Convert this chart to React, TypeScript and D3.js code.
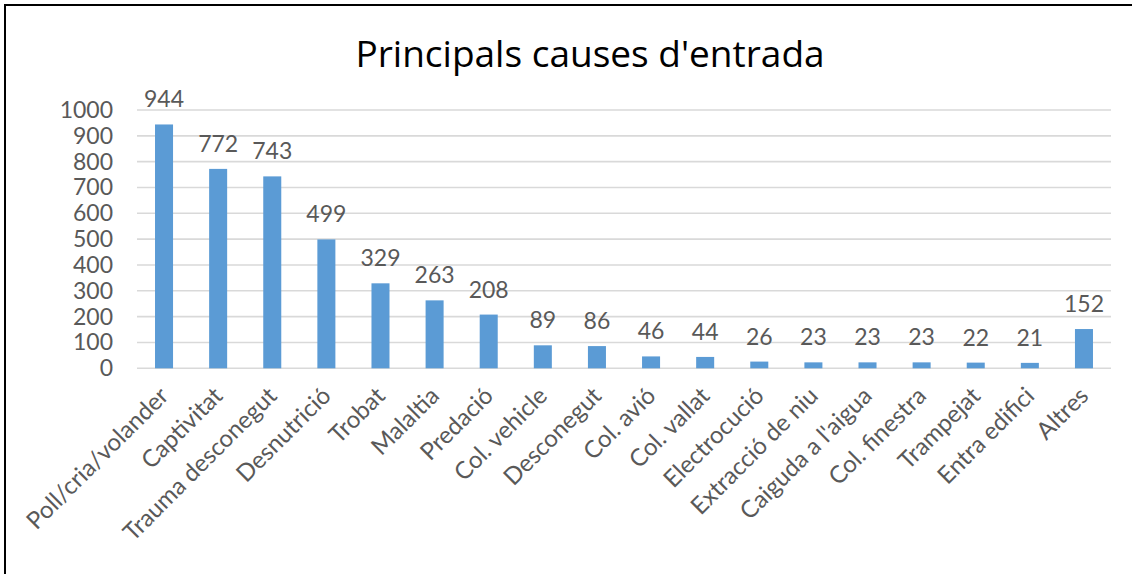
import React from "react";
import * as d3 from "d3";

const categories = [
  "Poll/cria/volander", "Captivitat", "Trauma desconegut", "Desnutrició", "Trobat",
  "Malaltia", "Predació", "Col. vehicle", "Desconegut", "Col. avió", "Col. vallat",
  "Electrocució", "Extracció de niu", "Caiguda a l'aigua", "Col. finestra",
  "Trampejat", "Entra edifici", "Altres",
];
const values = [944, 772, 743, 499, 329, 263, 208, 89, 86, 46, 44, 26, 23, 23, 23, 22, 21, 152];
const yTicks = [0, 100, 200, 300, 400, 500, 600, 700, 800, 900, 1000];
const title = "Principals causes d'entrada";

const W = 1132;
const H = 574;
const left = 137;
const right = 1111;
const top = 110;
const bottom = 368.3;
const labelFont = "'Lato', 'Open Sans', sans-serif";
const grey = "#595959";

export default function App() {
  const x = d3.scaleBand<string>().domain(categories).range([left, right]).paddingInner(0.667).paddingOuter(0.333);
  const y = d3.scaleLinear().domain([0, 1000]).range([bottom, top]);
  const bw = x.bandwidth();
  return (
    <svg width={W} height={H} style={{ position: "absolute", left: 0, top: 0, background: "#fff" }}>
      <rect x={0} y={0} width={W} height={H} fill="#fff" />
      <line x1={5} y1={5} x2={W} y2={5} stroke="#000" strokeWidth={2} />
      <line x1={5} y1={4} x2={5} y2={H} stroke="#000" strokeWidth={2} />
      <text x={590} y={67} textAnchor="middle" fontFamily="'Open Sans', sans-serif" fontSize={37} fill="#000">
        {title}
      </text>
      {yTicks.map((t) => (
        <g key={t}>
          <line x1={left} x2={right} y1={y(t)} y2={y(t)} stroke="#d9d9d9" strokeWidth={1.6} />
          <text x={113} y={y(t) + 8} textAnchor="end" fontFamily={labelFont} fontSize={23} fill={grey}>
            {t}
          </text>
        </g>
      ))}
      {categories.map((c, i) => {
        const cx = (x(c) as number) + bw / 2;
        return (
          <g key={c}>
            <rect x={x(c)} y={y(values[i])} width={bw} height={bottom - y(values[i])} fill="#5b9bd5" />
            <text x={cx} y={y(values[i]) - 17} textAnchor="middle" fontFamily={labelFont} fontSize={23} fill={grey}>
              {values[i]}
            </text>
            <text
              transform={`translate(${cx + 6},${bottom + 29}) rotate(-45)`}
              textAnchor="end"
              fontFamily={labelFont}
              fontSize={24}
              fill={grey}
            >
              {c}
            </text>
          </g>
        );
      })}
    </svg>
  );
}
